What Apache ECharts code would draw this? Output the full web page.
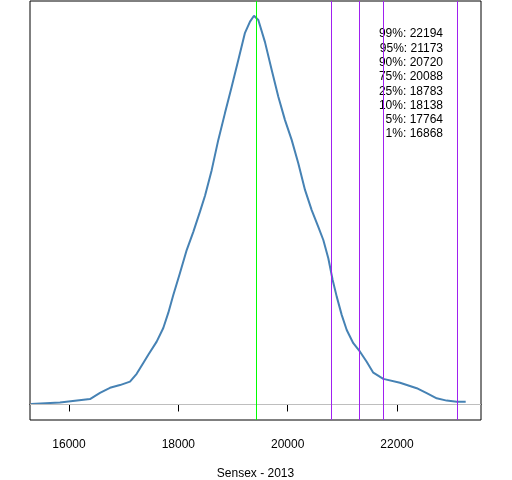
<!DOCTYPE html>
<html>
<head>
<meta charset="utf-8">
<script src="https://cdn.jsdelivr.net/npm/echarts@6/dist/echarts.min.js"></script>
<style>
  html, body { margin: 0; padding: 0; background: #fff; }
  #chart { width: 512px; height: 480px; }
</style>
</head>
<body>
<div id="chart"></div>
<script>
// density of Sensex closing values (x) and relative density (y, peak ~100)
const sensexValues = [
  15305, 15835, 16384, 16567, 16750, 16933, 17116, 17238, 17359, 17451,
  17604, 17725, 17816, 17908, 18030, 18153, 18274, 18396, 18488, 18610,
  18731, 18853, 18976, 19097, 19219, 19311, 19384, 19463, 19585, 19708,
  19829, 19951, 20073, 20194, 20317, 20439, 20560, 20652, 20743, 20823,
  20897, 20988, 21080, 21200, 21323, 21445, 21566, 21749, 22055, 22360,
  22543, 22726, 22909, 23092, 23256
];
const densityValues = [
  0.1, 0.5, 1.4, 3.0, 4.3, 5.0, 5.9, 7.9, 10.7, 12.8,
  16.2, 19.7, 23.6, 28.2, 33.9, 39.8, 44.5, 49.7, 53.8, 60.4,
  68.2, 75.1, 81.9, 88.8, 95.8, 98.7, 100.2, 99.1, 93.4, 86.2,
  79.3, 73.3, 68.2, 62.2, 55.3, 50.1, 45.8, 42.4, 37.7, 32.1,
  27.8, 23.1, 19.2, 15.8, 13.6, 11.0, 8.2, 6.6, 5.6, 4.2,
  2.9, 1.6, 1.0, 0.7, 0.7
];
const tickValues = [16000, 18000, 20000, 22000];
const modeValue = 19420;
const markerValues = [20798, 21310, 21749, 23103];
const quantileLevels = ['99%', '95%', '90%', '75%', '25%', '10%', '5%', '1%'];
const quantileValues = [22194, 21173, 20720, 20088, 18783, 18138, 17764, 16868];

const chart = echarts.init(document.getElementById('chart'));
const font = "'Liberation Sans', Arial, sans-serif";

const vLines = [{ xAxis: modeValue, lineStyle: { color: '#00ff00' } }].concat(
  markerValues.map(v => ({ xAxis: v, lineStyle: { color: '#a020f0' } }))
);

// quantile text block, one right-aligned line each
const quantileTexts = quantileLevels.map((q, i) => ({
  type: 'text',
  right: 69,
  top: 28 + i * 14.3,
  style: {
    text: q + ': ' + quantileValues[i],
    font: '12px ' + font,
    fill: '#000'
  }
}));

const option = {
  animation: false,
  backgroundColor: '#fff',
  textStyle: { fontFamily: font },
  grid: {
    show: true,
    left: 30,
    right: 31,
    top: 1,
    bottom: 60,
    outerBoundsMode: 'none',
    containLabel: false,
    borderColor: '#000',
    borderWidth: 1,
    backgroundColor: 'transparent'
  },
  xAxis: {
    type: 'value',
    min: 15287,
    max: 23536,
    name: 'Sensex - 2013',
    nameLocation: 'middle',
    nameGap: 48,
    nameTextStyle: { color: '#000', fontSize: 12, fontFamily: font },
    splitLine: { show: false },
    axisLine: { show: true, lineStyle: { color: '#000', width: 1 } },
    axisTick: {
      show: true,
      inside: false,
      length: 7,
      customValues: tickValues,
      lineStyle: { color: '#000' }
    },
    axisLabel: {
      customValues: tickValues,
      margin: 19,
      color: '#000',
      fontSize: 12,
      fontFamily: font,
      formatter: v => String(v)
    }
  },
  yAxis: {
    type: 'value',
    min: -4,
    max: 104,
    show: false,
    splitLine: { show: false }
  },
  series: [
    {
      type: 'line',
      data: sensexValues.map((x, i) => [x, densityValues[i]]),
      showSymbol: false,
      smooth: false,
      lineStyle: { color: '#4682b4', width: 2 },
      itemStyle: { color: '#4682b4' },
      markLine: {
        silent: true,
        symbol: 'none',
        label: { show: false },
        lineStyle: { type: 'solid', width: 1 },
        data: [{ yAxis: 0, lineStyle: { color: '#bebebe' } }].concat(vLines)
      }
    }
  ],
  graphic: quantileTexts
};

chart.setOption(option);
</script>
</body>
</html>
